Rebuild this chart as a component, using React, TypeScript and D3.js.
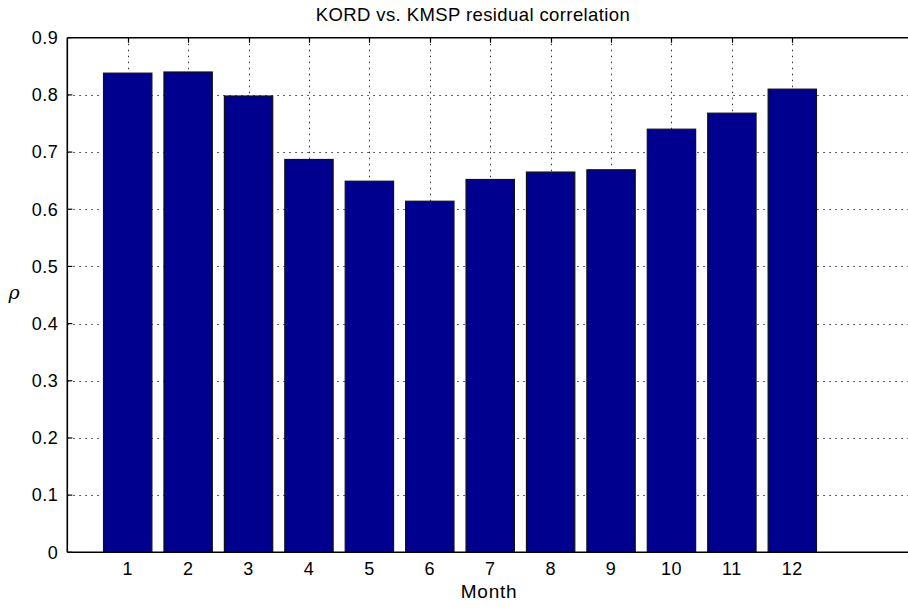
import React, { useEffect, useRef } from 'react';
import * as d3 from 'd3';

const months = [1, 2, 3, 4, 5, 6, 7, 8, 9, 10, 11, 12];
const rho = [0.838, 0.840, 0.798, 0.687, 0.649, 0.614, 0.652, 0.665, 0.669, 0.740, 0.768, 0.810];
const yTicks = [0, 0.1, 0.2, 0.3, 0.4, 0.5, 0.6, 0.7, 0.8, 0.9];
const titleText = 'KORD vs. KMSP residual correlation';
const xLabel = 'Month';
const yLabel = 'ρ';

const W = 908;
const H = 611;
const FONT = '"Liberation Sans", Arial, Helvetica, sans-serif';

const App = () => {
  const ref = useRef<SVGSVGElement>(null);

  useEffect(() => {
    const svg = d3.select(ref.current);
    svg.selectAll('*').remove();

    const x = d3.scaleLinear().domain([0, 13.915]).range([67.3, 908]);
    const y = d3.scaleLinear().domain([0, 0.9]).range([552.3, 37.7]);
    const barW = (x(1) - x(0)) * 0.8;

    svg.append('rect').attr('width', W).attr('height', H).attr('fill', '#fff');

    const grid = svg.append('g')
      .attr('stroke', '#333')
      .attr('stroke-width', 1)
      .attr('stroke-dasharray', '1.5,4.5');

    grid.selectAll('line.h')
      .data(yTicks.filter(t => t > 0 && t < 0.9))
      .enter().append('line')
      .attr('x1', x(0)).attr('x2', W)
      .attr('y1', d => Math.round(y(d)) + 0.5)
      .attr('y2', d => Math.round(y(d)) + 0.5);

    grid.selectAll('line.v')
      .data(months)
      .enter().append('line')
      .attr('x1', d => Math.round(x(d)) + 0.5)
      .attr('x2', d => Math.round(x(d)) + 0.5)
      .attr('y1', y(0.9)).attr('y2', y(0));

    svg.append('g').selectAll('rect')
      .data(months)
      .enter().append('rect')
      .attr('x', (d) => x(d) - barW / 2)
      .attr('y', (d, i) => y(rho[i]))
      .attr('width', barW)
      .attr('height', (d, i) => y(0) - y(rho[i]))
      .attr('fill', '#00008f')
      .attr('stroke', '#111')
      .attr('stroke-width', 1.2);

    // axes box (left, top, bottom)
    const axis = svg.append('g').attr('stroke', '#000').attr('stroke-width', 1.6).attr('fill', 'none');
    axis.append('line').attr('x1', x(0)).attr('x2', x(0)).attr('y1', y(0.9)).attr('y2', y(0));
    axis.append('line').attr('x1', x(0)).attr('x2', W).attr('y1', y(0.9)).attr('y2', y(0.9));
    axis.append('line').attr('x1', x(0)).attr('x2', W).attr('y1', y(0)).attr('y2', y(0));

    // inward ticks
    axis.selectAll('line.yt')
      .data(yTicks)
      .enter().append('line')
      .attr('stroke-width', 1.2)
      .attr('x1', x(0)).attr('x2', x(0) + 5)
      .attr('y1', d => y(d)).attr('y2', d => y(d));
    axis.selectAll('line.xt')
      .data(months)
      .enter().append('line')
      .attr('stroke-width', 1.2)
      .attr('x1', d => Math.round(x(d)) + 0.5).attr('x2', d => Math.round(x(d)) + 0.5)
      .attr('y1', y(0.9)).attr('y2', y(0.9) + 5);

    const txt = svg.append('g').attr('font-family', FONT).attr('fill', '#000');

    txt.selectAll('text.yl')
      .data(yTicks)
      .enter().append('text')
      .attr('x', x(0) - 9)
      .attr('y', d => y(d))
      .attr('dy', '0.35em')
      .attr('text-anchor', 'end')
      .attr('font-size', 18)
      .attr('letter-spacing', 0.5)
      .text(d => d3.format('.1f')(d).replace(/^0\.0$/, '0'));

    txt.selectAll('text.xl')
      .data(months)
      .enter().append('text')
      .attr('x', d => x(d))
      .attr('y', 574.5)
      .attr('text-anchor', 'middle')
      .attr('font-size', 18)
      .attr('letter-spacing', 0.5)
      .text(d => String(d));

    txt.append('text')
      .attr('x', 473)
      .attr('y', 20.5)
      .attr('text-anchor', 'middle')
      .attr('font-size', 18.5)
      .attr('letter-spacing', 0.4)
      .text(titleText);

    txt.append('text')
      .attr('x', 489)
      .attr('y', 597.5)
      .attr('text-anchor', 'middle')
      .attr('font-size', 19)
      .attr('letter-spacing', 0.7)
      .text(xLabel);

    txt.append('text')
      .attr('x', 14)
      .attr('y', 299)
      .attr('text-anchor', 'middle')
      .attr('font-size', 19)
      .attr('font-style', 'italic')
      .attr('font-family', '"DejaVu Serif", serif')
      .text(yLabel);
  }, []);

  return (
    <svg
      ref={ref}
      width={W}
      height={H}
      style={{ position: 'absolute', left: 0, top: 0, display: 'block' }}
    />
  );
};

export default App;
